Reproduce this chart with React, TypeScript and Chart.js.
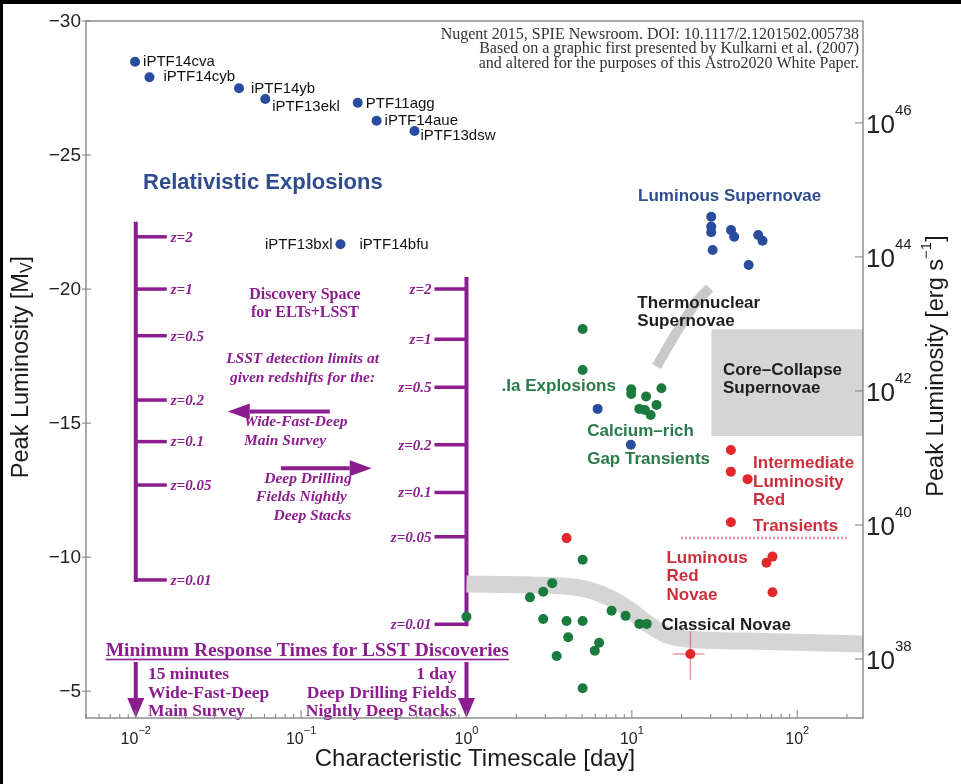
import { useEffect, useRef } from 'react';
import { Chart, registerables } from 'chart.js';

Chart.register(...registerables);

const WIDTH = 961;
const HEIGHT = 784;

const SANS = '"Liberation Sans", Arial, Helvetica, sans-serif';
const SERIF = '"Liberation Serif", "Times New Roman", serif';

// ---- axis ranges and tick values ----
const T_MIN = 0.005;
const T_MAX = 250;
const MAG_TOP = -30;
const MAG_BOTTOM = -4;
// M_V = MAG_ZP - 2.5 log10(L / erg s^-1)
const MAG_ZP = 88.8;
const magTicks = [-30, -25, -20, -15, -10, -5];
const timeDecades = [-2, -1, 0, 1, 2];
const lumDecades = [38, 40, 42, 44, 46];

// ---- relativistic explosions (blue) ----
const relNames = ['iPTF14cva', 'iPTF14cyb', 'iPTF14yb', 'iPTF13ekl', 'PTF11agg', 'iPTF14aue', 'iPTF13dsw', 'iPTF14bfu'];
const relTime = [0.0099, 0.0121, 0.0421, 0.0607, 0.22, 0.286, 0.485, 0.173];
const relMag = [-28.48, -27.9, -27.49, -27.09, -26.95, -26.28, -25.9, -21.67];

// ---- luminous supernovae (blue) ----
const slsnTime = [30.2, 30.2, 30.2, 30.8, 39.8, 41.6, 58.1, 61.7, 50.9];
const slsnMag = [-22.7, -22.33, -22.12, -21.46, -22.2, -21.95, -22.02, -21.8, -20.9];

// ---- blue objects among the gap transients ----
const gapBlueTime = [6.21, 9.86];
const gapBlueMag = [-15.53, -14.19];

// ---- .Ia explosions and calcium-rich gap transients (green) ----
const iaTime = [5.04, 5.04, 9.91, 9.91, 12.2, 15.1, 14.1, 11.1, 12.0, 13.0];
const iaMag = [-18.51, -16.98, -16.26, -16.09, -15.99, -16.3, -15.68, -15.53, -15.49, -15.3];

// ---- classical novae (green) ----
const novaTime = [1.0, 2.42, 2.91, 3.3, 5.04, 2.91, 4.03, 5.04, 4.12, 3.51, 6.34, 5.97, 5.04, 7.54, 9.16, 11.1, 12.3];
const novaMag = [-7.78, -8.5, -8.71, -9.03, -9.9, -7.69, -7.62, -7.62, -7.01, -6.31, -6.81, -6.51, -5.11, -8.0, -7.81, -7.51, -7.51];

// ---- red transients ----
const redTime = [4.03, 39.7, 39.7, 50.1, 39.7, 65.2, 70.9, 70.9];
const redMag = [-10.71, -14.0, -13.19, -12.91, -11.3, -9.79, -10.02, -8.69];
const crossTime = [22.6];
const crossMag = [-6.39];
const crossTimeRange = [17.7, 27.5];
const crossMagRange = [-7.22, -5.43];

// ---- shaded regions ----
const novaBandTime = [1.0, 2.42, 4.85, 7.36, 9.72, 12.8, 16.3, 25.8, 49.5, 250];
const novaBandMag = [-9.0, -8.96, -8.85, -8.48, -8.03, -7.47, -7.1, -6.91, -6.87, -6.76];
const thermoBandTime = [14.1, 19.5, 25.1, 29.6];
const thermoBandMag = [-17.11, -18.59, -19.59, -20.04];
const ccTime = [30.3, 250];
const ccMag = [-18.5, -14.52];
const dividerTime = [19.9, 199];
const dividerMag = [-10.71, -10.71];

// ---- LSST detection limits versus redshift ----
const zLevels = [2, 1, 0.5, 0.2, 0.1, 0.05, 0.01];
const wfdTime = 0.01;
const wfdLimitMag = [-21.95, -20.0, -18.26, -15.86, -14.31, -12.69, -9.15];
const ddfTime = 1;
const ddfLimitMag = [-20.0, -18.13, -16.34, -14.19, -12.41, -10.76, -7.5];

const BLUE = '#2a4c9e';
const BLUE_TEXT = '#2f4d8e';
const GREEN = '#1b7a3e';
const GREEN_TEXT = '#2b7a4c';
const RED = '#e2282b';
const RED_TEXT = '#cc2f3b';
const PURPLE = '#8b1d8e';
const AXIS = '#7f7f7f';
const INK = '#1d1d1d';

// labels next to the relativistic points: [text, point index, dx, dy, align]
const pointLabels: [string, number, number, number, CanvasTextAlign][] = [
  ['iPTF14cva', 0, 8, 0, 'left'],
  ['iPTF14cyb', 1, 14, 0, 'left'],
  ['iPTF14yb', 2, 12, 1, 'left'],
  ['iPTF13ekl', 3, 7, 8, 'left'],
  ['PTF11agg', 4, 8, 1, 'left'],
  ['iPTF14aue', 5, 8, 0, 'left'],
  ['iPTF13dsw', 6, 6, 5, 'left'],
  ['iPTF13bxl', 7, -8, 1, 'right'],
  ['iPTF14bfu', 7, 19, 1, 'left'],
];

type Note = {
  lines: string[];
  t: number;
  m: number;
  lh: number;
  font: string;
  color: string;
  align: CanvasTextAlign;
  underline?: boolean;
};

const sansB = (s: number) => `bold ${s}px ${SANS}`;
const serifB = (s: number) => `bold ${s}px ${SERIF}`;
const serifBI = (s: number) => `italic bold ${s}px ${SERIF}`;

const notes: Note[] = [
  { lines: ['Nugent 2015, SPIE Newsroom. DOI: 10.1117/2.1201502.005738', 'Based on a graphic first presented by Kulkarni et al. (2007)', 'and altered for the purposes of this Astro2020 White Paper.'], t: 236.6, m: -29.5, lh: 14.6, font: `16px ${SERIF}`, color: '#333333', align: 'right' },
  { lines: ['Relativistic Explosions'], t: 0.01106, m: -23.96, lh: 0, font: sansB(22), color: BLUE_TEXT, align: 'left' },
  { lines: ['Luminous Supernovae'], t: 10.9, m: -23.45, lh: 0, font: sansB(17), color: BLUE_TEXT, align: 'left' },
  { lines: ['Thermonuclear', 'Supernovae'], t: 10.8, m: -19.47, lh: 18.4, font: sansB(17), color: INK, align: 'left' },
  { lines: ['Core\u2013Collapse', 'Supernovae'], t: 35.6, m: -16.98, lh: 18.3, font: sansB(17), color: INK, align: 'left' },
  { lines: ['Classical Novae'], t: 15.1, m: -7.47, lh: 0, font: sansB(17), color: INK, align: 'left' },
  { lines: ['.Ia Explosions'], t: 1.63, m: -16.36, lh: 0, font: sansB(17), color: GREEN_TEXT, align: 'left' },
  { lines: ['Calcium\u2013rich'], t: 5.37, m: -14.68, lh: 0, font: sansB(17), color: GREEN_TEXT, align: 'left' },
  { lines: ['Gap Transients'], t: 5.37, m: -13.65, lh: 0, font: sansB(17), color: GREEN_TEXT, align: 'left' },
  { lines: ['Intermediate', 'Luminosity', 'Red'], t: 54.1, m: -13.5, lh: 18.7, font: sansB(17), color: RED_TEXT, align: 'left' },
  { lines: ['Transients'], t: 54.1, m: -11.16, lh: 0, font: sansB(17), color: RED_TEXT, align: 'left' },
  { lines: ['Luminous', 'Red', 'Novae'], t: 16.2, m: -9.96, lh: 18.4, font: sansB(17), color: RED_TEXT, align: 'left' },
  { lines: ['Discovery Space', 'for ELTs+LSST'], t: 0.1054, m: -19.78, lh: 18.3, font: serifB(16), color: PURPLE, align: 'center' },
  { lines: ['LSST detection limits at', 'given redshifts for the:'], t: 0.102, m: -17.39, lh: 18.7, font: serifBI(15.5), color: PURPLE, align: 'center' },
  { lines: ['Wide-Fast-Deep', 'Main Survey'], t: 0.0451, m: -15.03, lh: 18.4, font: serifBI(15.5), color: PURPLE, align: 'left' },
  { lines: ['Deep Drilling'], t: 0.11, m: -12.92, lh: 0, font: serifBI(15.5), color: PURPLE, align: 'center' },
  { lines: ['Fields Nightly'], t: 0.1005, m: -12.25, lh: 0, font: serifBI(15.5), color: PURPLE, align: 'center' },
  { lines: ['Deep Stacks'], t: 0.117, m: -11.55, lh: 0, font: serifBI(15.5), color: PURPLE, align: 'center' },
  { lines: ['Minimum Response Times for LSST Discoveries'], t: 0.1089, m: -6.51, lh: 0, font: serifB(19.5), color: PURPLE, align: 'center', underline: true },
  { lines: ['15 minutes', 'Wide-Fast-Deep', 'Main Survey'], t: 0.01185, m: -5.61, lh: 18.4, font: serifB(17.5), color: PURPLE, align: 'left' },
  { lines: ['1 day', 'Deep Drilling Fields', 'Nightly Deep Stacks'], t: 0.871, m: -5.61, lh: 18.4, font: serifB(17.5), color: PURPLE, align: 'right' },
];

// arrows between the two limit scales: [t from, t to, magnitude]
const sideArrows: [number, number, number][] = [
  [0.149, 0.036, -15.43],
  [0.0755, 0.267, -13.32],
];
// response-time arrows: [t, magnitude of the tail]
const downArrows: [number, number][] = [
  [0.01, -6.09],
  [1, -6.09],
];

const pts = (xs: number[], ys: number[]) => xs.map((x, i) => ({ x, y: ys[i] }));

const dots = (label: string, xs: number[], ys: number[], color: string) => ({
  label,
  data: pts(xs, ys),
  backgroundColor: color,
  borderColor: color,
  pointRadius: 5,
  pointHoverRadius: 5,
  pointBorderWidth: 0,
  showLine: false,
  order: 0,
});

const curve = (label: string, xs: number[], ys: number[], color: string, width: number, extra: any = {}) => ({
  label,
  data: pts(xs, ys),
  showLine: true,
  borderColor: color,
  backgroundColor: color,
  borderWidth: width,
  pointRadius: 0,
  pointHoverRadius: 0,
  fill: false,
  order: 5,
  ...extra,
});

type Part = { text: string; font: string; dy: number };

function drawRich(ctx: CanvasRenderingContext2D, parts: Part[], cx: number, cy: number, angle: number, align: 'center' | 'left' = 'center') {
  ctx.save();
  ctx.translate(cx, cy);
  ctx.rotate(angle);
  let w = 0;
  for (const p of parts) {
    ctx.font = p.font;
    w += ctx.measureText(p.text).width;
  }
  let x = align === 'center' ? -w / 2 : 0;
  ctx.textAlign = 'left';
  ctx.textBaseline = 'middle';
  for (const p of parts) {
    ctx.font = p.font;
    ctx.fillText(p.text, x, p.dy);
    x += ctx.measureText(p.text).width;
  }
  ctx.restore();
}

function arrow(ctx: CanvasRenderingContext2D, x1: number, y1: number, x2: number, y2: number, head: number, half: number, lw: number) {
  const ang = Math.atan2(y2 - y1, x2 - x1);
  const bx = x2 - Math.cos(ang) * head;
  const by = y2 - Math.sin(ang) * head;
  ctx.lineWidth = lw;
  ctx.beginPath();
  ctx.moveTo(x1, y1);
  ctx.lineTo(bx, by);
  ctx.stroke();
  ctx.beginPath();
  ctx.moveTo(x2, y2);
  ctx.lineTo(bx - Math.sin(ang) * half, by + Math.cos(ang) * half);
  ctx.lineTo(bx + Math.sin(ang) * half, by - Math.cos(ang) * half);
  ctx.closePath();
  ctx.fill();
}

const overlay = {
  id: 'overlay',
  beforeDatasetsDraw(chart: any) {
    const { ctx, chartArea: a, scales } = chart;
    const X = (t: number) => scales.x.getPixelForValue(t);
    const Y = (m: number) => scales.y.getPixelForValue(m);
    ctx.save();
    ctx.beginPath();
    ctx.rect(a.left, a.top, a.right - a.left, a.bottom - a.top);
    ctx.clip();

    // core-collapse supernova region
    ctx.fillStyle = '#d5d5d5';
    ctx.fillRect(X(ccTime[0]), Y(ccMag[0]), X(ccTime[1]) - X(ccTime[0]), Y(ccMag[1]) - Y(ccMag[0]));

    // detection-limit scales
    ctx.strokeStyle = PURPLE;
    ctx.fillStyle = PURPLE;
    ctx.lineCap = 'butt';
    const xl = X(wfdTime);
    ctx.lineWidth = 4;
    ctx.beginPath();
    ctx.moveTo(xl, Y(wfdLimitMag[0]) - 15);
    ctx.lineTo(xl, Y(wfdLimitMag[wfdLimitMag.length - 1]) + 2);
    ctx.stroke();
    ctx.lineWidth = 3.5;
    ctx.font = serifBI(15);
    ctx.textBaseline = 'middle';
    wfdLimitMag.forEach((m, i) => {
      const y = Y(m);
      ctx.beginPath();
      ctx.moveTo(xl, y);
      ctx.lineTo(xl + 31, y);
      ctx.stroke();
      ctx.textAlign = 'left';
      ctx.fillText(`z=${zLevels[i]}`, xl + 35, y + 1);
    });

    const xr = X(ddfTime);
    ctx.lineWidth = 4;
    ctx.beginPath();
    ctx.moveTo(xr, Y(ddfLimitMag[0]) - 12);
    ctx.lineTo(xr, Y(ddfLimitMag[ddfLimitMag.length - 1]) + 2);
    ctx.stroke();
    ctx.lineWidth = 3.5;
    ddfLimitMag.forEach((m, i) => {
      const y = Y(m);
      ctx.beginPath();
      ctx.moveTo(xr, y);
      ctx.lineTo(xr - 32, y);
      ctx.stroke();
      ctx.textAlign = 'right';
      ctx.fillText(`z=${zLevels[i]}`, xr - 35, y + 1);
    });

    for (const [t0, t1, m] of sideArrows) {
      arrow(ctx, X(t0), Y(m), X(t1), Y(m), 22, 8, 4);
    }
    for (const [t, m] of downArrows) {
      arrow(ctx, X(t), Y(m), X(t), a.bottom, 20, 8.5, 4);
    }
    ctx.restore();
  },
  afterDatasetsDraw(chart: any) {
    const { ctx, chartArea: a, scales } = chart;
    const X = (t: number) => scales.x.getPixelForValue(t);
    const Y = (m: number) => scales.y.getPixelForValue(m);
    ctx.save();

    // text notes
    for (const n of notes) {
      ctx.font = n.font;
      ctx.fillStyle = n.color;
      ctx.textAlign = n.align;
      ctx.textBaseline = 'middle';
      const x = X(n.t);
      n.lines.forEach((line, i) => {
        const y = Y(n.m) + i * n.lh;
        ctx.fillText(line, x, y);
        if (n.underline) {
          const w = ctx.measureText(line).width;
          const x0 = n.align === 'center' ? x - w / 2 : n.align === 'right' ? x - w : x;
          ctx.fillRect(x0, y + 8, w, 1.6);
        }
      });
    }

    // names of the relativistic events
    ctx.font = `15px ${SANS}`;
    ctx.fillStyle = '#111111';
    ctx.textBaseline = 'middle';
    for (const [text, idx, dx, dy, align] of pointLabels) {
      ctx.textAlign = align;
      ctx.fillText(text, X(relTime[idx]) + dx, Y(relMag[idx]) + dy);
    }

    // frame
    ctx.strokeStyle = AXIS;
    ctx.lineWidth = 1.3;
    ctx.strokeRect(a.left, a.top, a.right - a.left, a.bottom - a.top);

    // bottom ticks (inward)
    ctx.lineWidth = 1;
    for (let k = -3; k <= 2; k++) {
      for (let mul = 1; mul <= 9; mul++) {
        const v = mul * Math.pow(10, k);
        if (v < T_MIN || v > T_MAX) continue;
        const x = X(v);
        const len = mul === 1 ? 8 : 4;
        ctx.beginPath();
        ctx.moveTo(x, a.bottom);
        ctx.lineTo(x, a.bottom - len);
        ctx.stroke();
      }
    }
    // left ticks
    for (const m of magTicks) {
      const y = Y(m);
      ctx.beginPath();
      ctx.moveTo(a.left - 4, y);
      ctx.lineTo(a.left + 5, y);
      ctx.stroke();
    }
    // right ticks (luminosity)
    for (const d of lumDecades) {
      const y = Y(MAG_ZP - 2.5 * d);
      ctx.beginPath();
      ctx.moveTo(a.right, y);
      ctx.lineTo(a.right - 8, y);
      ctx.stroke();
    }

    // tick labels
    ctx.fillStyle = '#222222';
    ctx.font = `19px ${SANS}`;
    ctx.textAlign = 'right';
    ctx.textBaseline = 'middle';
    for (const m of magTicks) {
      ctx.fillText(String(m).replace('-', '\u2212'), a.left - 5, Y(m) + 1);
    }
    for (const d of timeDecades) {
      const exp = String(d).replace('-', '\u2212');
      ctx.font = `16px ${SANS}`;
      const wb = ctx.measureText('10').width;
      ctx.font = `11px ${SANS}`;
      const we = ctx.measureText(exp).width;
      const x0 = X(Math.pow(10, d)) - (wb + we) / 2;
      drawRich(ctx, [
        { text: '10', font: `16px ${SANS}`, dy: 0 },
        { text: exp, font: `11px ${SANS}`, dy: -9 },
      ], x0, a.bottom + 22, 0, 'left');
    }
    for (const d of lumDecades) {
      const y = Y(MAG_ZP - 2.5 * d);
      drawRich(ctx, [
        { text: '10', font: `26px ${SANS}`, dy: 0 },
        { text: String(d), font: `15px ${SANS}`, dy: -15 },
      ], a.right + 3, y + 3, 0, 'left');
    }

    // axis titles
    ctx.fillStyle = '#1a1a1a';
    drawRich(ctx, [
      { text: 'Peak Luminosity [M', font: `23.5px ${SANS}`, dy: 0 },
      { text: 'V', font: `16px ${SANS}`, dy: 6 },
      { text: ']', font: `23.5px ${SANS}`, dy: 0 },
    ], 22, 367, -Math.PI / 2);
    drawRich(ctx, [
      { text: 'Peak Luminosity [erg s', font: `23.5px ${SANS}`, dy: 0 },
      { text: '\u22121', font: `15px ${SANS}`, dy: -10 },
      { text: ']', font: `23.5px ${SANS}`, dy: 0 },
    ], 937, 366, -Math.PI / 2);
    drawRich(ctx, [
      { text: 'Characteristic Timescale [day]', font: `24px ${SANS}`, dy: 0 },
    ], 475, 759, 0);

    // outer border
    ctx.fillStyle = '#000000';
    ctx.fillRect(0, 0, WIDTH, 4);
    ctx.fillRect(0, 0, 3, HEIGHT);
    ctx.restore();
  },
};

export default function App() {
  const ref = useRef<HTMLCanvasElement>(null);

  useEffect(() => {
    const canvas = ref.current;
    if (!canvas) return;
    const chart = new Chart(canvas, {
      type: 'scatter',
      data: {
        datasets: [
          dots('Relativistic explosions', relTime, relMag, BLUE),
          dots('Luminous supernovae', slsnTime, slsnMag, BLUE),
          dots('Gap transients (blue)', gapBlueTime, gapBlueMag, BLUE),
          dots('.Ia and Ca-rich', iaTime, iaMag, GREEN),
          dots('Classical novae', novaTime, novaMag, GREEN),
          dots('Red transients', redTime, redMag, RED),
          dots('Red nova with error bars', crossTime, crossMag, RED),
          curve('Time error', crossTimeRange, [crossMag[0], crossMag[0]], 'rgba(226,70,80,0.55)', 1.5),
          curve('Magnitude error', [crossTime[0], crossTime[0]], crossMagRange, 'rgba(226,70,80,0.55)', 1.5),
          curve('ILRT / LRN divider', dividerTime, dividerMag, '#e26a6e', 2.5, { borderDash: [1.5, 2.5] }),
          curve('Thermonuclear band', thermoBandTime, thermoBandMag, '#c9c9c9', 10, { tension: 0.4, cubicInterpolationMode: 'monotone', order: 10 }),
          curve('Classical novae band', novaBandTime, novaBandMag, '#d5d5d5', 17, { tension: 0.4, cubicInterpolationMode: 'monotone', order: 10 }),
        ],
      },
      options: {
        responsive: false,
        maintainAspectRatio: false,
        animation: false,
        devicePixelRatio: 1,
        events: [],
        layout: { padding: { left: 86, top: 21, right: WIDTH - 863, bottom: HEIGHT - 718 } },
        plugins: { legend: { display: false }, tooltip: { enabled: false } },
        scales: {
          x: { type: 'logarithmic', min: T_MIN, max: T_MAX, display: false },
          y: { type: 'linear', reverse: true, min: MAG_TOP, max: MAG_BOTTOM, display: false },
        },
      },
      plugins: [overlay],
    });
    return () => chart.destroy();
  }, []);

  return (
    <div style={{ position: 'fixed', left: 0, top: 0, width: WIDTH, height: HEIGHT, background: '#ffffff' }}>
      <canvas ref={ref} width={WIDTH} height={HEIGHT} style={{ display: 'block' }} />
    </div>
  );
}
